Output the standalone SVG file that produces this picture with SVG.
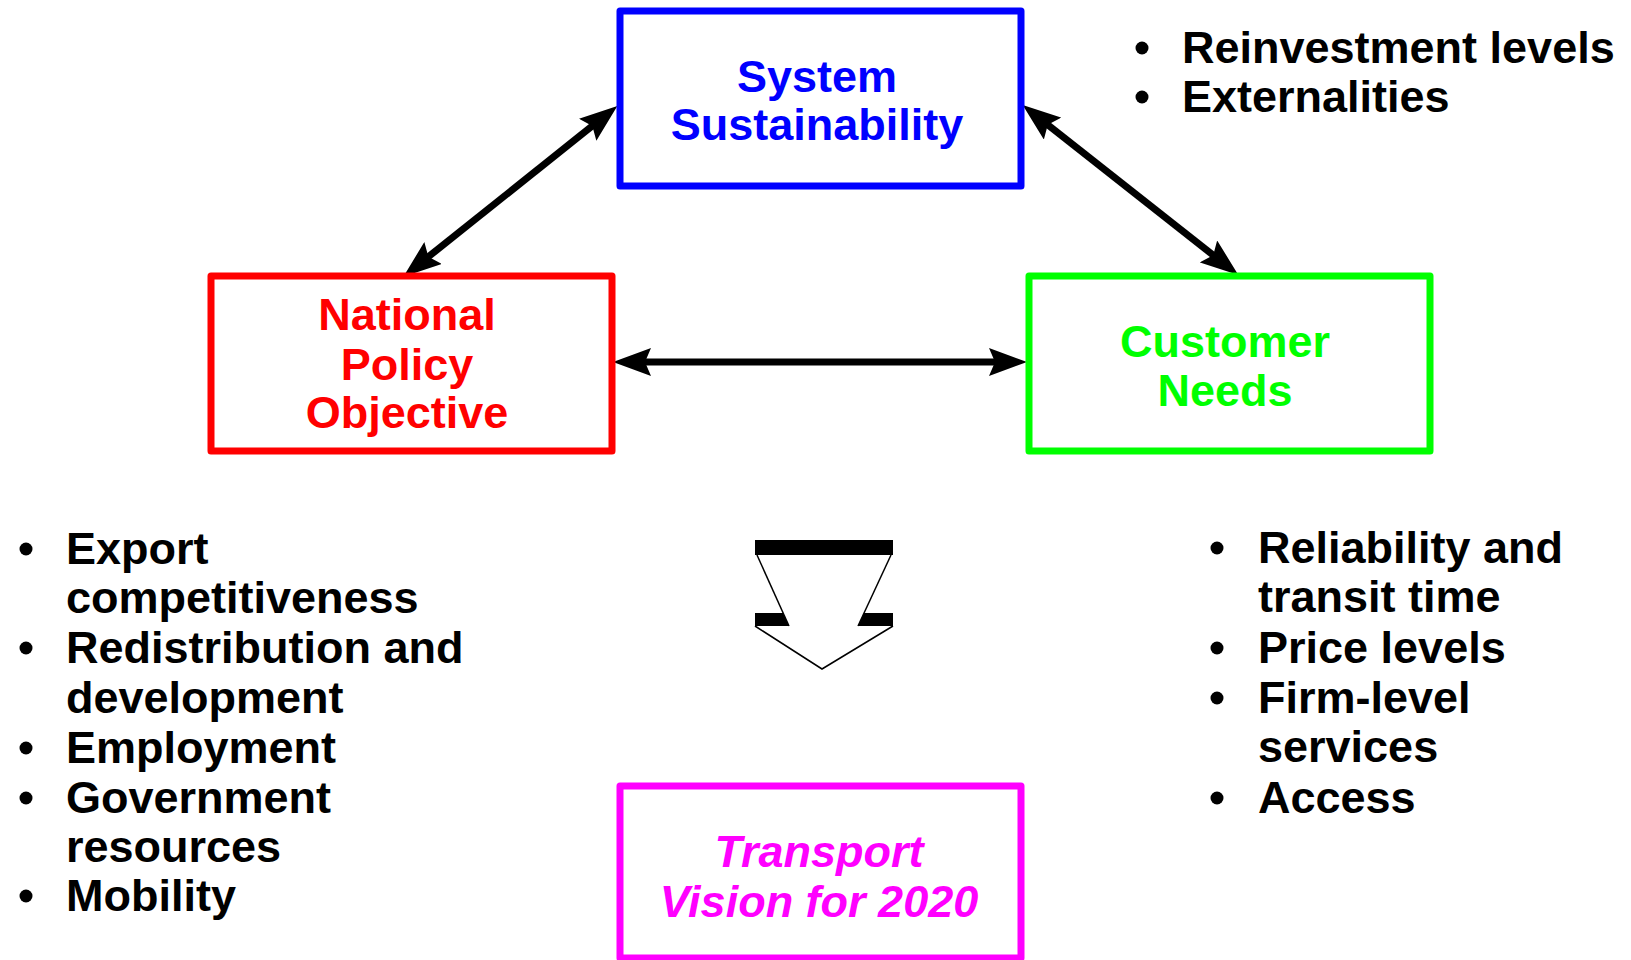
<svg xmlns="http://www.w3.org/2000/svg" width="1631" height="960" viewBox="0 0 1631 960">
<defs>
<style>
.box{fill:#fff;stroke-width:7;stroke-linejoin:round}
.lbl{font-family:"Liberation Sans",Arial,sans-serif;font-weight:bold;font-size:45px;text-anchor:middle}
.bul{font-family:"Liberation Sans",Arial,sans-serif;font-weight:bold;font-size:45px;fill:#000}
.dot{fill:#000}
.conn{stroke:#000;stroke-width:7;fill:none;marker-start:url(#ah);marker-end:url(#ah)}
</style>
<marker id="ah" viewBox="0 0 38 28" refX="13" refY="14" markerWidth="38" markerHeight="28" markerUnits="userSpaceOnUse" orient="auto-start-reverse">
<path d="M0,0 L38,14 L0,28 L6,14 z" fill="#000"/>
</marker>
</defs>
<rect width="1631" height="960" fill="#fff"/>

<g id="connectors">
<line class="conn" x1="422.9" y1="261.1" x2="597.8" y2="121.6"/>
<line class="conn" x1="1042.3" y1="120.5" x2="1218.7" y2="259.5"/>
<line class="conn" x1="638" y1="362" x2="1002" y2="362"/>
</g>

<g id="node-system">
<rect class="box" x="620" y="11" width="401" height="175" stroke="#0000FF"/>
<text class="lbl" fill="#0000FF"><tspan x="817" y="92">System</tspan><tspan x="817" y="140">Sustainability</tspan></text>
</g>

<g id="node-national">
<rect class="box" x="211" y="276" width="401" height="175" stroke="#FF0000"/>
<text class="lbl" fill="#FF0000"><tspan x="407" y="330">National</tspan><tspan x="407" y="380">Policy</tspan><tspan x="407" y="428">Objective</tspan></text>
</g>

<g id="node-customer">
<rect class="box" x="1029" y="276" width="401" height="175" stroke="#00FF00"/>
<text class="lbl" fill="#00FF00"><tspan x="1225" y="357">Customer</tspan><tspan x="1225" y="406">Needs</tspan></text>
</g>

<g id="node-vision">
<rect class="box" x="620" y="786" width="401" height="172" stroke="#FF00FF"/>
<text class="lbl" fill="#FF00FF" font-style="italic"><tspan x="819" y="867">Transport</tspan><tspan x="819" y="917">Vision for 2020</tspan></text>
</g>

<g id="down-arrow">
<rect x="755" y="540" width="138" height="15" fill="#000"/>
<line x1="757" y1="555" x2="789" y2="626" stroke="#000" stroke-width="1.5"/>
<line x1="891" y1="555" x2="858" y2="626" stroke="#000" stroke-width="1.5"/>
<polygon points="755,613 783,613 789,626 755,626" fill="#000"/>
<polygon points="864,613 893,613 893,626 858,626" fill="#000"/>
<polyline points="755,626 822,669 893,626" fill="none" stroke="#000" stroke-width="1.5"/>
</g>

<g id="list-sustainability">
<circle class="dot" cx="1142" cy="48" r="6.5"/>
<text x="1182" y="63" class="bul">Reinvestment levels</text>
<circle class="dot" cx="1142" cy="97" r="6.5"/>
<text x="1182" y="112" class="bul">Externalities</text>
</g>

<g id="list-national">
<circle class="dot" cx="26" cy="549" r="6.5"/>
<text x="66" y="564" class="bul">Export</text>
<text x="66" y="613" class="bul">competitiveness</text>
<circle class="dot" cx="26" cy="648" r="6.5"/>
<text x="66" y="663" class="bul">Redistribution and</text>
<text x="66" y="713" class="bul">development</text>
<circle class="dot" cx="26" cy="748" r="6.5"/>
<text x="66" y="763" class="bul">Employment</text>
<circle class="dot" cx="26" cy="798" r="6.5"/>
<text x="66" y="813" class="bul">Government</text>
<text x="66" y="862" class="bul">resources</text>
<circle class="dot" cx="26" cy="896" r="6.5"/>
<text x="66" y="911" class="bul">Mobility</text>
</g>

<g id="list-customer">
<circle class="dot" cx="1217" cy="548" r="6.5"/>
<text x="1258" y="563" class="bul">Reliability and</text>
<text x="1258" y="612" class="bul">transit time</text>
<circle class="dot" cx="1217" cy="648" r="6.5"/>
<text x="1258" y="663" class="bul">Price levels</text>
<circle class="dot" cx="1217" cy="698" r="6.5"/>
<text x="1258" y="713" class="bul">Firm-level</text>
<text x="1258" y="762" class="bul">services</text>
<circle class="dot" cx="1217" cy="798" r="6.5"/>
<text x="1258" y="813" class="bul">Access</text>
</g>
</svg>
